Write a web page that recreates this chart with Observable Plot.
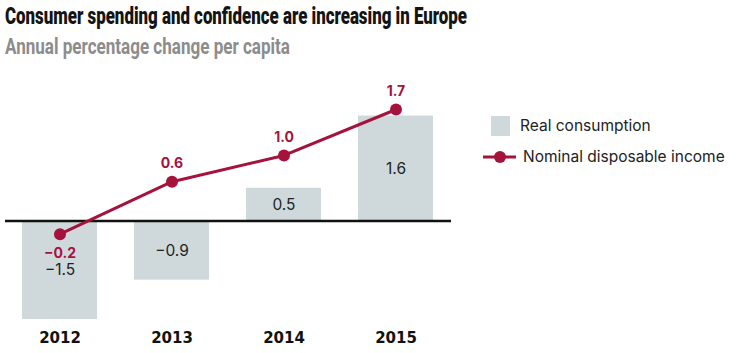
<!DOCTYPE html>
<html>
<head>
<meta charset="utf-8">
<script src="https://cdn.jsdelivr.net/npm/d3@7"></script>
<script src="https://cdn.jsdelivr.net/npm/@observablehq/plot@0.6"></script>
<style>
  html, body { margin: 0; padding: 0; background: #fff; }
  #wrap { position: relative; width: 738px; height: 353px; overflow: hidden; font-family: Inter, Roboto, sans-serif; }
  .title, .subtitle { position: absolute; left: 5px; white-space: nowrap; font-family: Roboto, sans-serif; line-height: 1; transform-origin: 0 50%; }
  .title { top: 4px; font-size: 24px; font-weight: 900; color: #141414; }
  .subtitle { top: 36px; font-size: 22px; font-weight: 700; color: #8c8c8c; }
  #chart { position: absolute; left: 0; top: 70px; }
  .legend { position: absolute; font-size: 15.5px; color: #222; white-space: nowrap; }
  .swatch { position: absolute; }
</style>
</head>
<body>
<div id="wrap">
  <div class="title" id="title">Consumer spending and confidence are increasing in Europe</div>
  <div class="subtitle" id="subtitle">Annual percentage change per capita</div>
  <div id="chart"></div>
  <svg class="swatch" style="left:480px;top:110px" width="40" height="60">
    <rect x="11" y="6" width="19" height="20" fill="#cfd9db"></rect>
    <line x1="3" x2="36" y1="47" y2="47" stroke="#a5123c" stroke-width="3"></line>
    <circle cx="20" cy="47" r="6" fill="#a5123c"></circle>
  </svg>
  <div class="legend" style="left:520px;top:116px">Real consumption</div>
  <div class="legend" style="left:523px;top:147px">Nominal disposable income</div>
</div>
<script>
const years = ["2012", "2013", "2014", "2015"];
const realConsumption = [-1.5, -0.9, 0.5, 1.6];
const nominalIncome = [-0.2, 0.6, 1.0, 1.7];

const barData = years.map((year, i) => ({year, value: realConsumption[i]}));
const lineData = years.map((year, i) => ({year, value: nominalIncome[i]}));
const fmt = d3.format(".1f");
const red = "#a5123c";

const chart = Plot.plot({
  width: 738,
  height: 283,
  marginLeft: 5,
  marginRight: 287,
  marginTop: 39,
  marginBottom: 34,
  style: {fontFamily: "Inter, Roboto, sans-serif", background: "transparent", overflow: "visible"},
  x: {type: "band", domain: years, paddingInner: 0.326, paddingOuter: 0.1415, axis: null},
  y: {domain: [-1.5, 1.7], axis: null},
  marks: [
    Plot.barY(barData, {x: "year", y: "value", fill: "#cfd9db"}),
    Plot.ruleY([0], {stroke: "#111", strokeWidth: 2.6}),
    Plot.text(barData, {x: "year", y: d => d.value / 2, text: d => fmt(d.value), fontSize: 15.5, fill: "#222"}),
    Plot.line(lineData, {x: "year", y: "value", stroke: red, strokeWidth: 3}),
    Plot.dot(lineData, {x: "year", y: "value", r: 6, fill: red}),
    Plot.text(lineData.filter(d => d.value >= 0), {x: "year", y: "value", text: d => fmt(d.value), dy: -18, fontSize: 14, fontWeight: 700, fill: red}),
    Plot.text(lineData.filter(d => d.value < 0), {x: "year", y: "value", text: d => fmt(d.value), dy: 19, fontSize: 14, fontWeight: 700, fill: red}),
    Plot.text(years, {x: d => d, frameAnchor: "bottom", dy: 23, text: d => d, fontSize: 15, fontWeight: 700, fill: "#111", fontFamily: "DejaVu Sans, sans-serif"})
  ]
});
document.getElementById("chart").appendChild(chart);

function fit(id, target) {
  const el = document.getElementById(id);
  const w = el.getBoundingClientRect().width;
  el.style.transform = `scaleX(${target / w})`;
}
fit("title", 462);
fit("subtitle", 285);
</script>
</body>
</html>
